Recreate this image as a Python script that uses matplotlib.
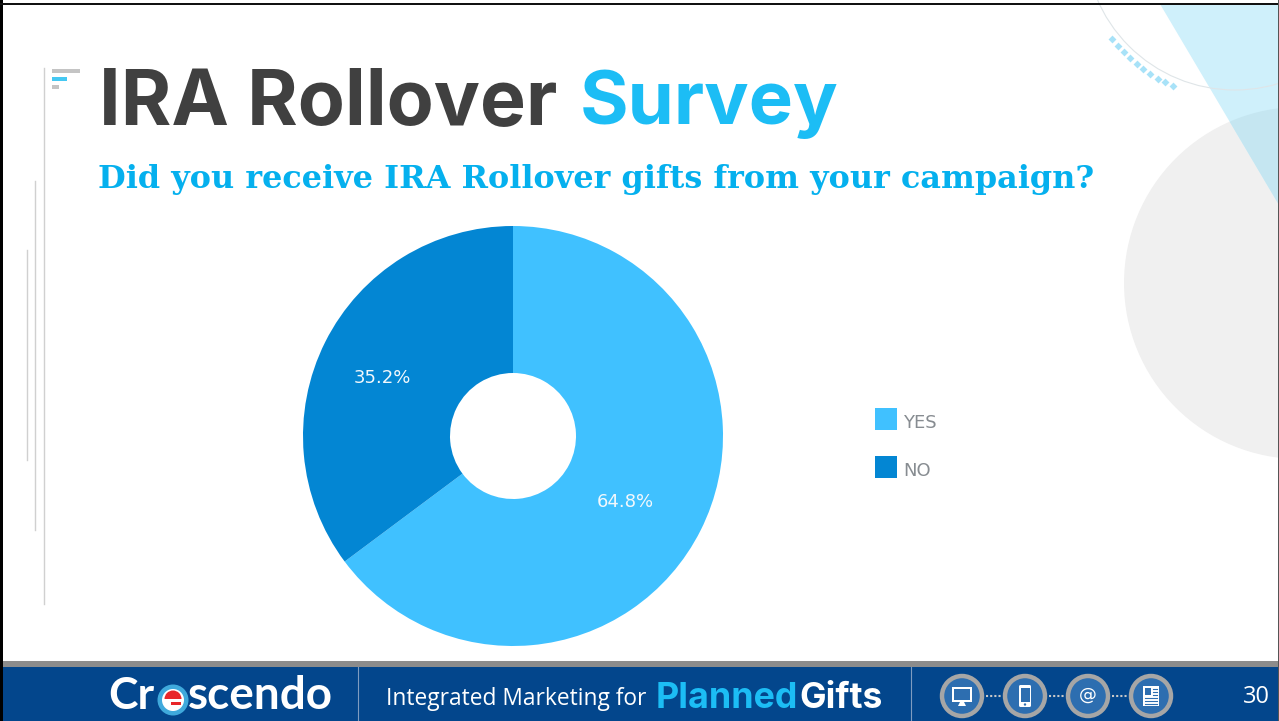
import matplotlib
matplotlib.use("Agg")
import matplotlib.pyplot as plt
from matplotlib.patches import Circle, Polygon, Rectangle, FancyBboxPatch, Wedge

# datos de la encuesta
categories = ["YES", "NO"]
shares = [64.8, 35.2]
slice_colors = ["#40c1ff", "#0386d3"]

W, H = 1279, 721
BLUE = "#1cbdf5"
NAVY = "#03468c"
ICON = "#2d6eb0"

plt.rcParams["font.family"] = "DejaVu Sans"

fig = plt.figure(figsize=(W / 100, H / 100), dpi=100, facecolor="white")

# lienzo en coordenadas de pixel para la decoracion de la diapositiva
bg = fig.add_axes([0, 0, 1, 1])
bg.set_xlim(0, W)
bg.set_ylim(H, 0)
bg.axis("off")
bg.set_zorder(2)

# formas de fondo arriba a la derecha
disc = Circle((1300, 283), 176, fc="#f0f0f0", ec="none", zorder=1)
bg.add_patch(disc)
corners = [(1160, 4), (1279, 4), (1279, 205)]
bg.add_patch(Polygon(corners, fc="#cff0fb", ec="none", zorder=2))
overlap = Polygon(corners, fc="#c5e6f1", ec="none", zorder=3)
bg.add_patch(overlap)
overlap.set_clip_path(disc)
bg.add_patch(Circle((1235, -60), 150, fc="none", ec="#dfe5e8", lw=0.8, zorder=4))
dots_x = [1112, 1118, 1124, 1130, 1137, 1143, 1150, 1158, 1165, 1173]
dots_y = [39, 46, 52, 58, 64, 69, 74, 79, 82, 86]
bg.scatter(dots_x, dots_y, marker="D", s=16, color="#a8e2f8", lw=0, zorder=5)

# lineas verticales y marca del titulo
for x, y0, y1 in [(44, 68, 604), (35, 181, 530), (27, 250, 460)]:
    bg.plot([x, x], [y0, y1], color="#d0d0d0", lw=1, zorder=2)
bg.add_patch(Rectangle((52, 69), 28, 4, fc="#c4c4c4", ec="none"))
bg.add_patch(Rectangle((52, 77), 15, 4, fc="#45c8f2", ec="none"))
bg.add_patch(Rectangle((52, 85), 7, 4, fc="#c4c4c4", ec="none"))

# titulo y pregunta
bg.text(99, 124, "IRA Rollover", family="Inter", weight="bold", fontsize=55.5,
        color="#404040", va="baseline", zorder=6)
bg.text(580, 124, "Survey", family="Inter", weight="bold", fontsize=53.5,
        color=BLUE, va="baseline", zorder=6)
bg.text(98, 188, "Did you receive IRA Rollover gifts from your campaign?",
        family="DejaVu Serif", weight="bold", fontsize=22.95, color="#05b0ee",
        va="baseline", zorder=6)

# grafico de anillo
cx, cy, r = 513, 436, 210
pie_ax = fig.add_axes([(cx - r) / W, 1 - (cy + r) / H, 2 * r / W, 2 * r / H])
pie_ax.pie(shares, colors=slice_colors, startangle=90, counterclock=False,
           radius=1, wedgeprops=dict(width=0.7, edgecolor="none"))
pie_ax.set_xlim(-1, 1)
pie_ax.set_ylim(-1, 1)

label_pos = [(625, 502), (382, 378)]
for value, (x, y) in zip(shares, label_pos):
    bg.text(x, y, f"{value}%", color="#f2f8fc", fontsize=13, ha="center",
            va="center", zorder=6)

# leyenda
legend_y = [408, 456]
for name, color, y in zip(categories, slice_colors, legend_y):
    bg.add_patch(Rectangle((875, y), 22, 22, fc=color, ec="none"))
    bg.text(903, y + 15, name, color="#878c91", fontsize=13, va="center")

# marco de la diapositiva
bg.add_patch(Rectangle((0, 0), 3, H, fc="black", ec="none", zorder=8))
bg.add_patch(Rectangle((0, 3), W, 2, fc="#111111", ec="none", zorder=8))
bg.add_patch(Rectangle((W - 1, 0), 1, H, fc="#555555", ec="none", zorder=8))

# pie de pagina
bg.add_patch(Rectangle((3, 661), W, 6, fc="#8c8c8c", ec="none", zorder=7))
bg.add_patch(Rectangle((3, 667), W, 54, fc=NAVY, ec="none", zorder=7))
for x in [358, 911]:
    bg.plot([x, x], [667, 721], color="#7f9cc0", lw=0.8, zorder=8)

# logotipo con la "e" dentro del circulo
bg.text(108, 709, "Cr", family="Lato", weight="bold", fontsize=32, color="white",
        va="baseline", zorder=9)
bg.add_patch(Circle((173, 700), 15.5, fc="#3fa9dc", ec="none", zorder=9))
bg.add_patch(Circle((173, 700), 11, fc="white", ec="none", zorder=10))
bg.add_patch(Wedge((173, 699), 8.5, 180, 360, fc="#e8262a", ec="none", zorder=11))
bg.add_patch(Rectangle((164, 699), 18, 2.5, fc="white", ec="none", zorder=12))
bg.add_patch(Rectangle((171, 702), 10, 2.5, fc="#e8262a", ec="none", zorder=12))
bg.text(188, 709, "scendo", family="Lato", weight="bold", fontsize=33, color="white",
        va="baseline", zorder=9)

bg.text(386, 705, "Integrated Marketing for", family="Open Sans", fontsize=16.4,
        color="white", va="baseline", zorder=9)
bg.text(656, 708, "Planned", family="Inter", weight="bold", fontsize=25.8,
        color=BLUE, va="baseline", zorder=9)
bg.text(799, 708, "Gifts", family="Inter", weight="bold", fontsize=25.5,
        color="white", va="baseline", zorder=9)
bg.text(1243, 703, "30", family="Open Sans", fontsize=17,
        color="white", va="baseline", zorder=9)

# iconos de canales
icon_x = [962, 1025, 1088, 1151]
for x in icon_x:
    bg.add_patch(Circle((x, 696), 20, fc=ICON, ec="#a6a6a6", lw=3.2, zorder=9))
for x0, x1 in zip(icon_x[:-1], icon_x[1:]):
    bg.plot([x0 + 24, x1 - 24], [696, 696], color="#c8c8c8", lw=1.5, ls=(0, (1, 1)), zorder=9)

# monitor
bg.add_patch(Rectangle((952, 687), 20, 15, fc="white", ec="none", zorder=10))
bg.add_patch(Rectangle((954, 689), 16, 11, fc=ICON, ec="none", zorder=11))
bg.add_patch(Polygon([(960, 702), (964, 702), (966, 706), (958, 706)], fc="white", ec="none", zorder=10))
# telefono
bg.add_patch(FancyBboxPatch((1019, 685), 12, 22, boxstyle="round,pad=0,rounding_size=1.5",
                            fc="white", ec="none", zorder=10))
bg.add_patch(Rectangle((1020.5, 688), 9, 14, fc=ICON, ec="none", zorder=11))
bg.add_patch(Circle((1025, 704.5), 1.2, fc=ICON, ec="none", zorder=11))
# arroba
bg.text(1088, 695, "@", color="white", fontsize=13, ha="center", va="center", zorder=10)
# boletin
bg.add_patch(Rectangle((1143, 686), 16, 20, fc="white", ec="none", zorder=10))
bg.add_patch(Rectangle((1145, 688), 6, 7, fc=ICON, ec="none", zorder=11))
for y in [698, 701, 704]:
    bg.plot([1145, 1157], [y, y], color=ICON, lw=0.8, zorder=11)
for y in [689, 692, 695]:
    bg.plot([1152.5, 1157], [y, y], color=ICON, lw=0.8, zorder=11)

fig.savefig("out.png", dpi=100)
